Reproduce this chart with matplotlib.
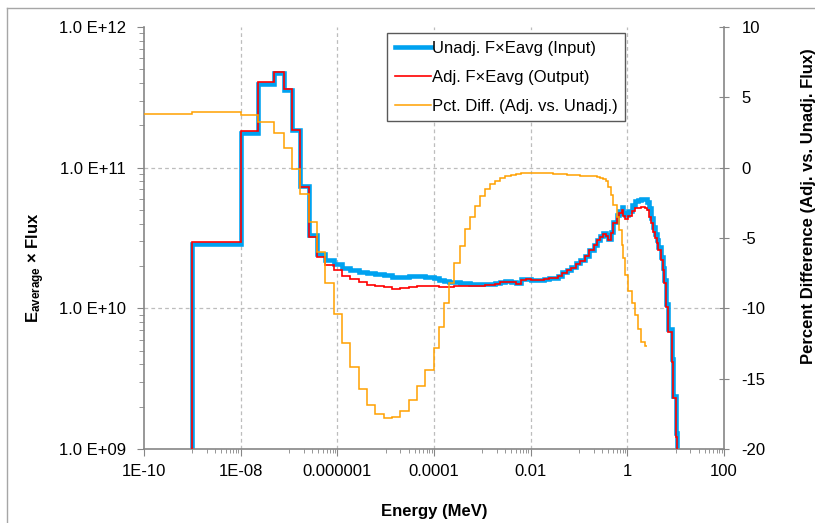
import matplotlib.pyplot as plt
from matplotlib.lines import Line2D

plt.rcParams['font.family'] = ['Liberation Sans', 'DejaVu Sans']
plt.rcParams['font.size'] = 12
plt.rcParams['mathtext.fontset'] = 'custom'
plt.rcParams['mathtext.rm'] = 'Liberation Sans'
plt.rcParams['mathtext.bf'] = 'Liberation Sans:bold'
plt.rcParams['mathtext.it'] = 'Liberation Sans:italic'

# Energy group boundaries (MeV)
energy_edges = [
    1e-10, 1e-9, 1e-8, 2.23e-8, 4.94e-8, 7.7e-8, 1.18e-7, 1.71e-7, 2.54e-7, 3.76e-7, 5.51e-7, 8.37e-7,
    1.25e-6, 1.86e-6, 2.76e-6, 4.13e-6, 6.14e-6, 9.12e-6, 1.36e-5, 2.02e-5, 3.01e-5, 4.49e-5, 6.67e-5,
    1.0e-4, 1.28e-4, 1.63e-4, 2.08e-4, 2.65e-4, 3.38e-4, 4.31e-4, 5.50e-4, 7.01e-4, 8.94e-4,
    1.14e-3, 1.45e-3, 1.85e-3, 2.36e-3, 3.01e-3, 3.84e-3, 4.90e-3, 6.25e-3, 7.97e-3, 0.0102,
    0.0126, 0.0156, 0.0193, 0.0239, 0.0295, 0.0365, 0.0452, 0.0559, 0.0691, 0.0855,
    0.106, 0.131, 0.162, 0.2, 0.231, 0.270, 0.316, 0.359, 0.401, 0.449, 0.508, 0.598,
    0.676, 0.759, 0.818, 0.887, 1.04, 1.22, 1.43, 1.66, 1.96, 2.30, 2.56, 2.82,
    3.06, 3.32, 3.71, 4.02, 4.34, 4.86, 5.35, 5.77, 6.25, 6.98, 8.20, 8.85, 10.07, 10.7,
]

# F x Eavg per group, starting at the 1E-09 boundary
unadj_flux = [
    2.87e10, 1.76e11, 3.92e11, 4.69e11, 3.56e11, 1.85e11, 7.4e10, 3.33e10, 2.45e10, 2.21e10, 2.07e10,
    1.94e10, 1.88e10, 1.81e10, 1.77e10, 1.74e10, 1.72e10, 1.68e10, 1.68e10, 1.69e10, 1.70e10, 1.67e10,
    1.64e10, 1.60e10, 1.57e10, 1.55e10, 1.53e10, 1.52e10, 1.51e10, 1.50e10, 1.49e10, 1.48e10,
    1.48e10, 1.49e10, 1.51e10, 1.54e10, 1.56e10, 1.55e10, 1.51e10, 1.61e10, 1.62e10, 1.60e10,
    1.59e10, 1.60e10, 1.62e10, 1.64e10, 1.65e10, 1.70e10, 1.80e10, 1.88e10, 1.96e10, 2.09e10,
    2.19e10, 2.37e10, 2.60e10,
    2.84e10, 3.08e10, 3.25e10, 3.41e10, 3.30e10, 3.09e10, 3.47e10, 4.13e10, 4.60e10, 4.91e10,
    5.28e10, 4.80e10, 4.61e10, 4.95e10, 5.45e10, 5.80e10, 5.85e10, 6.00e10, 5.95e10, 5.73e10,
    5.14e10, 4.40e10, 3.80e10, 3.35e10, 3.05e10, 2.72e10, 2.30e10, 1.95e10, 1.58e10, 1.08e10,
    7.1e9, 4.35e9, 2.4e9, 1.3e9,
]
adj_flux = [
    2.98e10, 1.83e11, 4.05e11, 4.81e11, 3.61e11, 1.85e11, 7.26e10, 3.20e10, 2.31e10, 2.03e10, 1.86e10,
    1.70e10, 1.62e10, 1.53e10, 1.47e10, 1.44e10, 1.41e10, 1.38e10, 1.39e10, 1.41e10, 1.44e10, 1.43e10,
    1.43e10, 1.42e10, 1.42e10, 1.42e10, 1.43e10, 1.44e10, 1.44e10, 1.45e10, 1.45e10, 1.45e10,
    1.46e10, 1.47e10, 1.50e10, 1.53e10, 1.55e10, 1.54e10, 1.50e10, 1.60e10, 1.61e10, 1.59e10,
    1.58e10, 1.59e10, 1.61e10, 1.63e10, 1.64e10, 1.69e10, 1.79e10, 1.87e10, 1.95e10, 2.08e10,
    2.18e10, 2.36e10, 2.58e10,
    2.82e10, 3.06e10, 3.23e10, 3.38e10, 3.27e10, 3.06e10, 3.42e10, 4.02e10, 4.48e10, 4.74e10,
    5.00e10, 4.50e10, 4.30e10, 4.50e10, 4.90e10, 5.15e10, 5.17e10, 5.26e10, 5.20e10, 5.00e10,
    4.48e10, 4.02e10, 3.51e10, 3.15e10, 2.90e10, 2.60e10, 2.21e10, 1.87e10, 1.51e10, 1.03e10,
    6.82e9, 4.18e9, 2.29e9, 1.22e9,
]

# Percent difference per group, from 1E-10 up to 2.56 MeV
pct_diff = [
    3.82, 3.96, 3.77, 3.25, 2.49, 1.38, -0.09, -1.87, -3.84, -5.97, -8.22, -10.37,
    -12.44, -14.19, -15.73, -16.87, -17.53, -17.77, -17.7, -17.3, -16.51, -15.5, -14.38,
    -12.84, -11.3, -9.64, -8.17, -6.79, -5.56, -4.38, -3.48, -2.72, -2.01,
    -1.54, -1.18, -0.92, -0.71, -0.57, -0.5, -0.45, -0.4, -0.38, -0.37,
    -0.36, -0.37, -0.38, -0.4, -0.43, -0.46, -0.48, -0.5, -0.53, -0.55,
    -0.57, -0.59, -0.6,
    -0.62, -0.65, -0.7, -0.8, -0.95, -1.35, -1.94, -2.65, -3.48, -4.4,
    -5.5, -6.4, -7.6, -8.8, -9.6, -10.5, -11.5, -12.36, -12.65,
]

x_ticks = [1e-10, 1e-8, 1e-6, 1e-4, 1e-2, 1, 100]
x_tick_labels = ['1E-10', '1E-08', '0.000001', '0.0001', '0.01', '1', '100']
y_ticks = [1e9, 1e10, 1e11, 1e12]
y_tick_labels = ['1.0 E+09', '1.0 E+10', '1.0 E+11', '1.0 E+12']
pct_ticks = [-20, -15, -10, -5, 0, 5, 10]

BLUE = '#00A2F0'
RED = '#FF0000'
ORANGE = '#FFA000'
AXIS_GRAY = '#868686'

fig = plt.figure(figsize=(8.15, 5.23), dpi=100)
ax = fig.add_axes([144 / 815, 1 - 449 / 523, 580 / 815, 422 / 523])

# chart area border (top and left edges show)
fig.add_artist(Line2D([7 / 815, 1.0], [1 - 8 / 523, 1 - 8 / 523], color='#a6a6a6', lw=1))
fig.add_artist(Line2D([7 / 815, 7 / 815], [0, 1 - 8 / 523], color='#a6a6a6', lw=1))

ax.set_xscale('log')
ax.set_yscale('log')
ax.set_xlim(1e-10, 100)
ax.set_ylim(1e9, 1e12)

for xv in x_ticks[1:-1]:
    ax.axvline(xv, color='#bdbdbd', lw=0.9, dashes=(3, 2.5), zorder=0)
for yv in y_ticks[1:-1]:
    ax.axhline(yv, color='#bdbdbd', lw=0.9, dashes=(3, 2.5), zorder=0)

ax.stairs(unadj_flux, energy_edges[1:], baseline=1e5, color=BLUE, lw=3.3, zorder=2)
ax.stairs(adj_flux, energy_edges[1:], baseline=1e5, color=RED, lw=1.2, zorder=3)

ax.set_xticks(x_ticks)
ax.set_xticklabels(x_tick_labels)
ax.set_xticks([k * 10.0 ** e for e in (-9, -7, -5, -3, -1, 1) for k in range(1, 10)], minor=True)
ax.set_yticks(y_ticks)
ax.set_yticklabels(y_tick_labels)
ax.set_yticks([k * 10.0 ** e for e in (9, 10, 11) for k in range(2, 10)], minor=True)
ax.xaxis.set_minor_formatter(plt.NullFormatter())
ax.yaxis.set_minor_formatter(plt.NullFormatter())

ax.tick_params(axis='x', which='major', direction='out', length=5, color=AXIS_GRAY, pad=6)
ax.tick_params(axis='x', which='minor', direction='out', length=3, color=AXIS_GRAY)
ax.tick_params(axis='y', which='major', direction='out', length=5, color=AXIS_GRAY, pad=8)
ax.tick_params(axis='y', which='minor', direction='out', length=3.5, color=AXIS_GRAY)

for side in ('top', 'right'):
    ax.spines[side].set_visible(False)
for side in ('left', 'bottom'):
    ax.spines[side].set_color(AXIS_GRAY)
    ax.spines[side].set_linewidth(1.2)

ax.set_xlabel('Energy (MeV)', fontweight='bold')
ax.xaxis.label.set_va('center')
ax.xaxis.set_label_coords(0.5, -0.149)
ax.set_ylabel(r'$\mathbf{E_{average}}$ × Flux', fontweight='bold')
ax.yaxis.label.set_va('center')
ax.yaxis.set_label_coords(-0.187, 0.429)

# percent difference on the secondary axis
ax2 = ax.twinx()
ax2.set_ylim(-20, 10)
ax2.stairs(pct_diff, energy_edges[:len(pct_diff) + 1], baseline=None, color=ORANGE, lw=1.1, zorder=4)
ax2.set_yticks(pct_ticks)
ax2.set_yticklabels([str(v) for v in pct_ticks])
ax2.tick_params(axis='y', which='major', direction='inout', length=7, color=AXIS_GRAY, pad=9)
for side in ('top', 'left', 'bottom'):
    ax2.spines[side].set_visible(False)
ax2.spines['right'].set_color(AXIS_GRAY)
ax2.spines['right'].set_linewidth(1.2)
ax2.set_ylabel('Percent Difference (Adj. vs. Unadj. Flux)', fontweight='bold', rotation=90)
ax2.yaxis.label.set_va('center')
ax2.yaxis.set_label_coords(1.146, 0.576)

handles = [
    Line2D([], [], color=BLUE, lw=3.3),
    Line2D([], [], color=RED, lw=1.2),
    Line2D([], [], color=ORANGE, lw=1.1),
]
labels = ['Unadj. F×Eavg (Input)', 'Adj. F×Eavg (Output)', 'Pct. Diff. (Adj. vs. Unadj.)']
leg = ax2.legend(handles, labels, loc='upper left', bbox_to_anchor=(387 / 815, 1 - 33 / 523),
                 bbox_transform=fig.transFigure, borderaxespad=0, borderpad=0.45,
                 labelspacing=0.85, handlelength=2.2, handletextpad=0.05,
                 fancybox=False, framealpha=1, edgecolor='#595959')
leg.get_frame().set_linewidth(1.0)

fig.savefig('out.png', dpi=100)
